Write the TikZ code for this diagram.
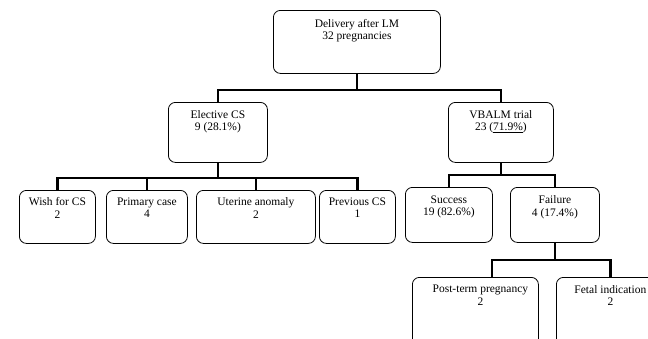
\documentclass[tikz,border=0pt]{standalone}
\usepackage{fontspec}
\setmainfont{Liberation Serif}
\begin{document}
\begin{tikzpicture}[x=1pt,y=-1pt,
  box/.style={draw, line width=0.8pt, rounded corners=7pt, inner sep=0pt, anchor=north west},
  lbl/.style={font=\fontsize{11.5}{12.5}\selectfont, align=center, inner sep=0pt, anchor=north},
  conn/.style={line width=2.6pt, line join=miter}]
\useasboundingbox (0,0) rectangle (648,338);
\clip (0,0) rectangle (648,338);
\fill[white] (0,0) rectangle (648,338);
% boxes
\node[box, minimum width=167pt, minimum height=63pt] (top) at (273,10) {};
\node[box, minimum width=99pt, minimum height=60pt] (elec) at (168,102) {};
\node[box, minimum width=105pt, minimum height=60pt] (vbalm) at (448,102) {};
\node[box, minimum width=76pt, minimum height=53pt] (wish) at (19,190) {};
\node[box, minimum width=81pt, minimum height=53pt] (prim) at (106,190) {};
\node[box, minimum width=119pt, minimum height=53pt] (uter) at (196,190) {};
\node[box, minimum width=76pt, minimum height=53pt] (prev) at (319,190) {};
\node[box, minimum width=87pt, minimum height=55pt] (succ) at (405,187) {};
\node[box, minimum width=89pt, minimum height=55pt] (fail) at (510,187) {};
\node[box, minimum width=126pt, minimum height=80pt] (post) at (412,277) {};
\node[box, minimum width=108pt, minimum height=80pt] (fetal) at (556,277) {};
% texts
\node[lbl] (ttop) at ([yshift=-9pt]top.north) {Delivery after LM\\32 pregnancies};
\node[lbl] (telec) at ([yshift=-8pt]elec.north) {Elective CS\\9 (28.1\%)};
\node[lbl] (tvbalm) at ([yshift=-8pt]vbalm.north) {VBALM trial\\23 (\underline{71.9\%})};
\node[lbl] (twish) at ([yshift=-7.5pt]wish.north) {Wish for CS\\2};
\node[lbl] (tprim) at ([yshift=-7.5pt]prim.north) {Primary case\\4};
\node[lbl] (tuter) at ([yshift=-7.5pt]uter.north) {Uterine anomaly\\2};
\node[lbl] (tprev) at ([yshift=-7.5pt]prev.north) {Previous CS\\1};
\node[lbl] (tsucc) at ([yshift=-8.5pt]succ.north) {Success\\19 (82.6\%)};
\node[lbl] (tfail) at ([yshift=-8.5pt]fail.north) {Failure\\4 (17.4\%)};
\node[lbl] (tpost) at ([xshift=5pt,yshift=-8pt]post.north) {Post-term pregnancy\\2};
\node[lbl] (tfetal) at ([yshift=-8pt]fetal.north) {Fetal indication\\2};
% bar levels
\coordinate (b1) at (0,90);
\coordinate (b2) at (0,178);
\coordinate (b3) at (0,175);
\coordinate (b4) at (0,260);
\coordinate (pn) at (492,277);
% connectors
\draw[conn] (top.south) -- (top.south |- b1);
\draw[conn] (elec.north) -- (elec.north |- b1) -- (vbalm.north |- b1) -- (vbalm.north);
\draw[conn] (elec.south) -- (elec.south |- b2);
\draw[conn] (wish.north) -- (wish.north |- b2) -- (prev.north |- b2) -- (prev.north);
\draw[conn] (prim.north) -- (prim.north |- b2);
\draw[conn] (uter.north) -- (uter.north |- b2);
\draw[conn] (vbalm.south) -- (vbalm.south |- b3);
\draw[conn] (succ.north) -- (succ.north |- b3) -- (fail.north |- b3) -- (fail.north);
\draw[conn] (fail.south) -- (fail.south |- b4);
\draw[conn] (pn) -- (pn |- b4) -- (fetal.north |- b4) -- (fetal.north);
\end{tikzpicture}
\end{document}
